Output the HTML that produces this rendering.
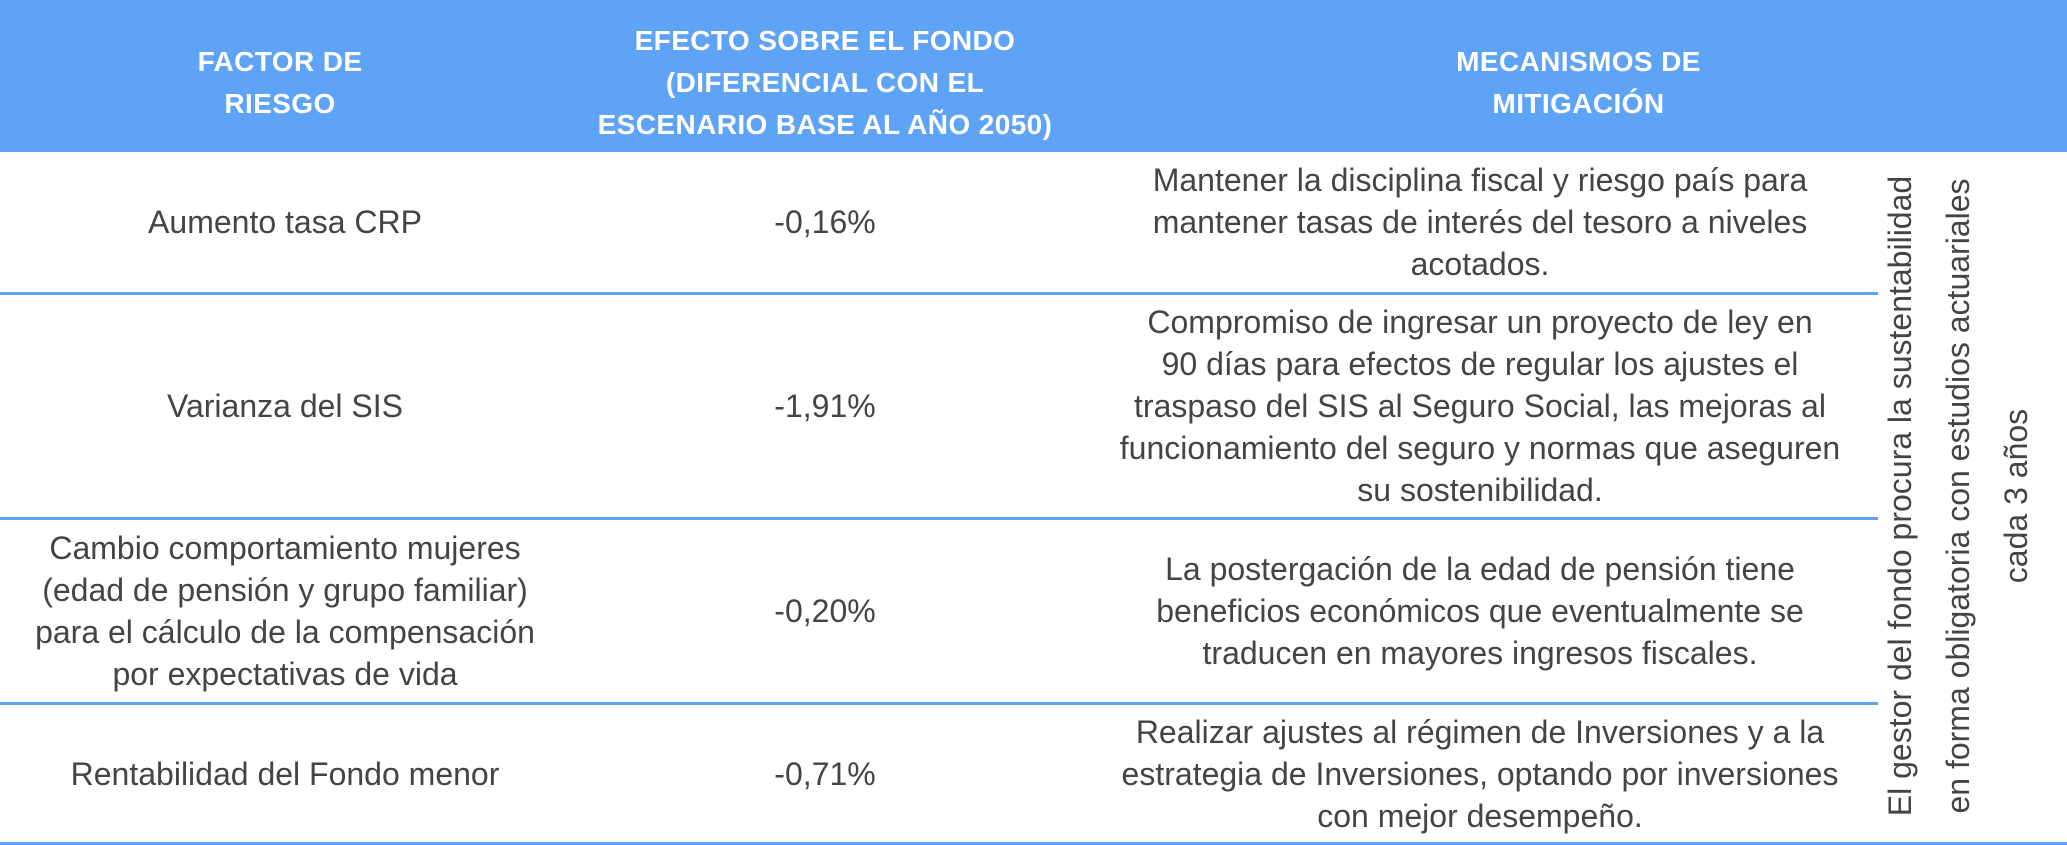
<!DOCTYPE html>
<html><head><meta charset="utf-8"><style>
html,body{margin:0;padding:0;background:#fff}
#w{position:relative;width:2067px;height:845px;overflow:hidden;font-family:"Liberation Sans",sans-serif}
.hd{position:absolute;top:0;left:0;width:2067px;height:152px;background:#5fa3f7}
.c{position:absolute;display:flex;align-items:center;justify-content:center;text-align:center;white-space:nowrap}
.h{color:#fff;font-weight:bold;font-size:28px;line-height:42px;letter-spacing:0.4px}
.b{color:#444;font-size:32px;line-height:42px}
.ln{position:absolute;left:0;height:3px;background:#5fa3f7}
</style></head><body><div id="w">
<div class="hd"></div>
<div class="c h" style="left:0;width:560px;top:0;height:165px">FACTOR DE<br>RIESGO</div>
<div class="c h" style="left:560px;width:530px;top:0;height:165px">EFECTO SOBRE EL FONDO<br>(DIFERENCIAL CON EL<br>ESCENARIO BASE AL AÑO 2050)</div>
<div class="c h" style="left:1090px;width:977px;top:0;height:165px">MECANISMOS DE<br>MITIGACIÓN</div>

<div class="ln" style="top:292px;width:1878px"></div>
<div class="ln" style="top:517px;width:1878px"></div>
<div class="ln" style="top:702px;width:1878px"></div>
<div class="ln" style="top:842px;width:2067px"></div>

<div class="c b" style="left:0;width:570px;top:152px;height:140px">Aumento tasa CRP</div>
<div class="c b" style="left:560px;width:530px;top:152px;height:140px">-0,16%</div>
<div class="c b" style="left:1090px;width:780px;top:152px;height:140px">Mantener la disciplina fiscal y riesgo país para<br>mantener tasas de interés del tesoro a niveles<br>acotados.</div>

<div class="c b" style="left:0;width:570px;top:295px;height:222px">Varianza del SIS</div>
<div class="c b" style="left:560px;width:530px;top:295px;height:222px">-1,91%</div>
<div class="c b" style="left:1090px;width:780px;top:295px;height:222px">Compromiso de ingresar un proyecto de ley en<br>90 días para efectos de regular los ajustes el<br>traspaso del SIS al Seguro Social, las mejoras al<br>funcionamiento del seguro y normas que aseguren<br>su sostenibilidad.</div>

<div class="c b" style="left:0;width:570px;top:520px;height:182px">Cambio comportamiento mujeres<br>(edad de pensión y grupo familiar)<br>para el cálculo de la compensación<br>por expectativas de vida</div>
<div class="c b" style="left:560px;width:530px;top:520px;height:182px">-0,20%</div>
<div class="c b" style="left:1090px;width:780px;top:520px;height:182px">La postergación de la edad de pensión tiene<br>beneficios económicos que eventualmente se<br>traducen en mayores ingresos fiscales.</div>

<div class="c b" style="left:0;width:570px;top:705px;height:137px">Rentabilidad del Fondo menor</div>
<div class="c b" style="left:560px;width:530px;top:705px;height:137px">-0,71%</div>
<div class="c b" style="left:1090px;width:780px;top:705px;height:137px">Realizar ajustes al régimen de Inversiones y a la<br>estrategia de Inversiones, optando por inversiones<br>con mejor desempeño.</div>

<div class="c b" style="left:1958px;top:496px;width:760px;height:180px;margin-left:-380px;margin-top:-90px;transform:rotate(-90deg);line-height:58px">El gestor del fondo procura la sustentabilidad<br>en forma obligatoria con estudios actuariales<br>cada 3 años</div>
</div></body></html>
